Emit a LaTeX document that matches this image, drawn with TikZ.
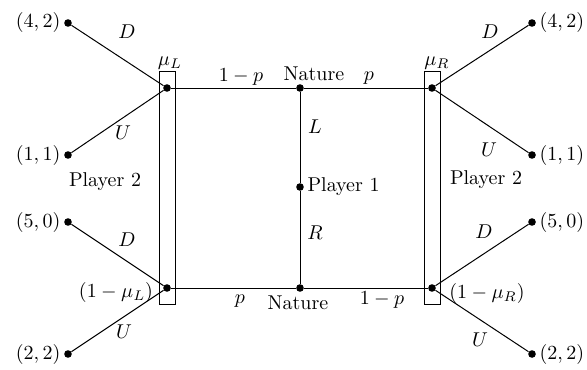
\documentclass[tikz,border=0pt]{standalone}
\begin{document}
\begin{tikzpicture}[x=0.5pt,y=-0.5pt,
  dot/.style={circle,fill=black,inner sep=0pt,minimum size=3.8pt},
  edge/.style={draw=black,line width=0.5pt},
  lbl/.style={inner sep=0pt}]
\useasboundingbox (0,0) rectangle (587,369);
% information sets
\draw[line width=0.5pt] (159,72) rectangle (175,304);
\draw[line width=0.5pt] (424,72) rectangle (440,304);
% decision nodes
\node[dot] (NT) at (300,88) {};
\node[dot] (NB) at (300,288) {};
\node[dot] (P1) at (300,187) {};
\node[dot] (LT) at (167,88) {};
\node[dot] (LB) at (167,288) {};
\node[dot] (RT) at (432,88) {};
\node[dot] (RB) at (432,288) {};
% terminal nodes
\node[dot] (LT1) at (68,23) {};
\node[dot] (LT2) at (68,155) {};
\node[dot] (LB1) at (68,222) {};
\node[dot] (LB2) at (68,354) {};
\node[dot] (RT1) at (532,23) {};
\node[dot] (RT2) at (532,155) {};
\node[dot] (RB1) at (532,222) {};
\node[dot] (RB2) at (532,354) {};
% edges
\draw[edge] (P1) -- (NT);
\draw[edge] (P1) -- (NB);
\draw[edge] (NT) -- (LT);
\draw[edge] (NT) -- (RT);
\draw[edge] (NB) -- (LB);
\draw[edge] (NB) -- (RB);
\draw[edge] (LT) -- (LT1);
\draw[edge] (LT) -- (LT2);
\draw[edge] (LB) -- (LB1);
\draw[edge] (LB) -- (LB2);
\draw[edge] (RT) -- (RT1);
\draw[edge] (RT) -- (RT2);
\draw[edge] (RB) -- (RB1);
\draw[edge] (RB) -- (RB2);
% payoffs
\node[anchor=east,inner sep=1.5pt] at (LT1.west) {$(4,2)$};
\node[anchor=east,inner sep=1.5pt] at (LT2.west) {$(1,1)$};
\node[anchor=east,inner sep=1.5pt] at (LB1.west) {$(5,0)$};
\node[anchor=east,inner sep=1.5pt] at (LB2.west) {$(2,2)$};
\node[anchor=west,inner sep=1.5pt] at (RT1.east) {$(4,2)$};
\node[anchor=west,inner sep=1.5pt] at (RT2.east) {$(1,1)$};
\node[anchor=west,inner sep=1.5pt] at (RB1.east) {$(5,0)$};
\node[anchor=west,inner sep=1.5pt] at (RB2.east) {$(2,2)$};
% action labels
\node[lbl] at (127,32) {$D$};
\node[lbl] at (123,133) {$U$};
\node[lbl] at (127,240) {$D$};
\node[lbl] at (124,332) {$U$};
\node[lbl] at (490,32) {$D$};
\node[lbl] at (489,150) {$U$};
\node[lbl] at (484,232) {$D$};
\node[lbl] at (480,340) {$U$};
\node[lbl] at (315,127) {$L$};
\node[lbl] at (315,233) {$R$};
% probabilities
\node[lbl] at (241,77) {$1-p$};
\node[lbl] at (369,78) {$p$};
\node[lbl] at (240,301) {$p$};
\node[lbl] at (382,300) {$1-p$};
% beliefs
\node[lbl] at (170,63) {$\mu_L$};
\node[lbl] at (437,63) {$\mu_R$};
\node[lbl] at (116,292) {$(1-\mu_L)$};
\node[lbl] at (487,293) {$(1-\mu_R)$};
% player labels
\node[lbl] at (314,74) {Nature};
\node[lbl] at (298,303) {Nature};
\node[anchor=west,inner sep=1.5pt] at (P1.east) {Player 1};
\node[lbl] at (105,182) {Player 2};
\node[lbl] at (486,180) {Player 2};
\end{tikzpicture}
\end{document}
